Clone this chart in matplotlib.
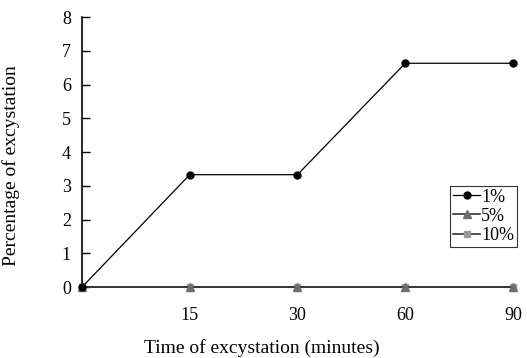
import matplotlib

matplotlib.use("Agg")
import matplotlib.pyplot as plt

# Data
times = ["", "15", "30", "60", "90"]
pct_1 = [0, 3.33, 3.33, 6.63, 6.63]
pct_5 = [0, 0, 0, 0, 0]
pct_10 = [0, 0, 0, 0, 0]

plt.rcParams["font.family"] = ["Liberation Serif", "DejaVu Serif"]

fig = plt.figure(figsize=(5.27, 3.58), dpi=100)
ax = fig.add_axes([0.1556, 0.198, 0.8178, 0.7545])

x = range(len(times))
ax.plot(x, pct_10, color="#333333", lw=1.2, marker="s", ms=5,
        mfc="#9a9a9a", mec="#9a9a9a", label="10%", clip_on=False, zorder=3)
ax.plot(x, pct_5, color="#333333", lw=1.2, marker="^", ms=6,
        mfc="#6e6e6e", mec="#6e6e6e", label="5%", clip_on=False, zorder=4)
ax.plot(x, pct_1, color="black", lw=0.9, marker="o", ms=5,
        mfc="black", mec="black", label="1%", clip_on=False, zorder=5)

ax.set_xlim(0, len(times) - 1)
ax.set_ylim(0, 8)
ax.set_xticks(list(x))
ax.set_xticklabels(times, fontsize=13)
ax.set_yticks(range(0, 9))
ax.tick_params(axis="y", labelsize=13, length=6, width=1, direction="in",
               pad=8)
ax.tick_params(axis="x", length=0, pad=14)
for s in ("top", "right", "bottom"):
    ax.spines[s].set_visible(False)
ax.spines["left"].set_linewidth(1.2)

ax.set_xlabel("Time of excystation (minutes)", fontsize=14, va="center")
ax.set_ylabel("Percentage of excystation", fontsize=14, va="center")
ax.xaxis.set_label_coords(0.418, -0.226)
ax.yaxis.set_label_coords(-0.165, 0.45)

handles, labels = ax.get_legend_handles_labels()
leg = ax.legend(handles[::-1], labels[::-1], loc="lower right",
                bbox_to_anchor=(1.009, 0.15), fontsize=13, frameon=True,
                fancybox=False, edgecolor="black", handlelength=1.5,
                handletextpad=0.05, borderpad=0.15, labelspacing=0.12,
                borderaxespad=0)
leg.get_frame().set_linewidth(0.8)

fig.savefig("out.png", dpi=100)
